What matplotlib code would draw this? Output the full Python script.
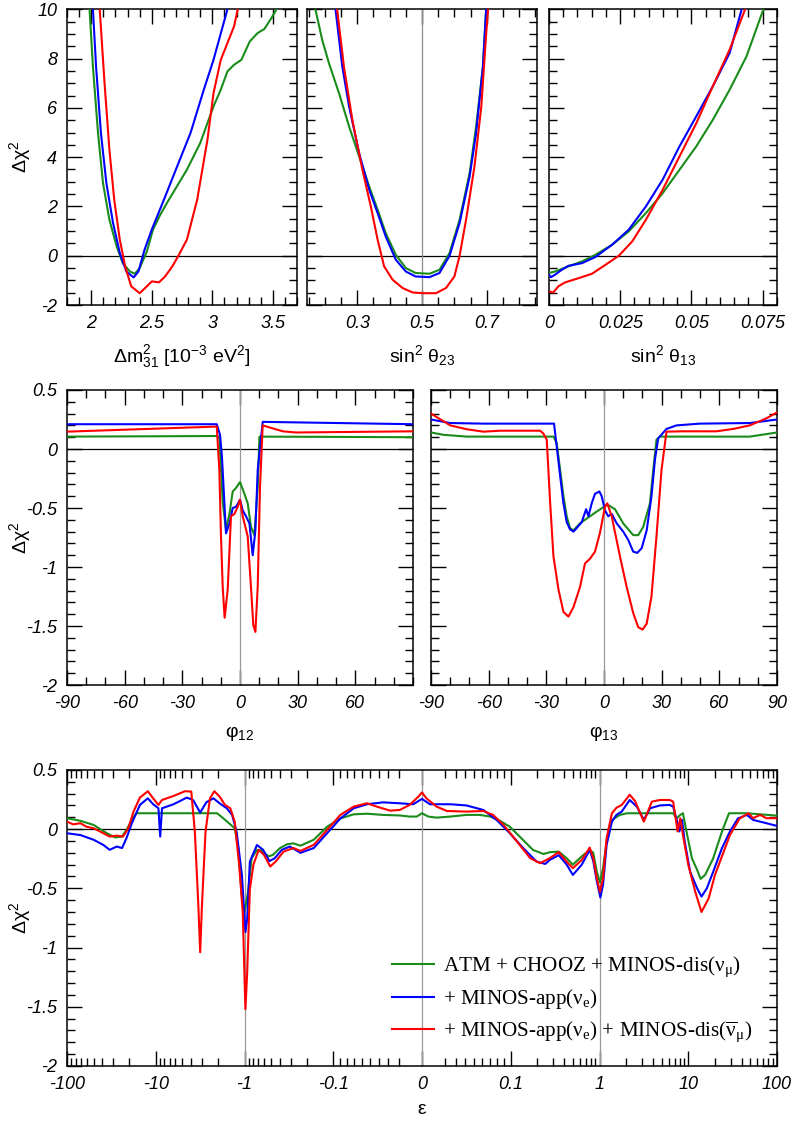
import numpy as np
import matplotlib
matplotlib.use('Agg')
import matplotlib.pyplot as plt
from matplotlib.ticker import MultipleLocator, FixedLocator, FuncFormatter

# Data read off the reference
# Panel 1: delta m^2_31 [1e-3 eV^2]
dm_green_x = [1.986, 2.014, 2.056, 2.097, 2.15, 2.21, 2.26, 2.32, 2.36, 2.40, 2.46, 2.51, 2.57, 2.625,
              2.79, 2.90, 3.01, 3.07, 3.125, 3.18, 3.24, 3.31, 3.375, 3.43, 3.49, 3.53]
dm_green_y = [10, 7.67, 4.98, 2.95, 1.46, 0.38, -0.30, -0.64, -0.73, -0.5, 0.18, 1.06, 1.66, 2.14,
              3.49, 4.57, 6.06, 6.74, 7.48, 7.75, 7.95, 8.7, 9.04, 9.2, 9.66, 10]
dm_blue_x = [2.014, 2.04, 2.08, 2.125, 2.18, 2.236, 2.29, 2.35, 2.39, 2.44, 2.5, 2.6, 2.71, 2.82,
             2.93, 3.01, 3.125]
dm_blue_y = [10, 7.67, 4.98, 2.95, 1.33, 0.11, -0.64, -0.88, -0.64, 0.24, 1.06, 2.27, 3.63, 4.98,
             6.74, 7.95, 10]
dm_red_x = [2.07, 2.11, 2.15, 2.19, 2.236, 2.28, 2.33, 2.40, 2.46, 2.5, 2.56, 2.61, 2.67, 2.72,
            2.79, 2.875, 2.96, 3.01, 3.07, 3.125, 3.18, 3.21]
dm_red_y = [10, 7.0, 4.3, 2.27, 0.65, -0.43, -1.24, -1.52, -1.24, -1.04, -1.08, -0.84, -0.43, 0,
            0.65, 2.27, 4.71, 6.6, 7.95, 8.63, 9.31, 10]

# Panel 2: sin^2 theta_23
t23_green_x = [0.171, 0.192, 0.213, 0.244, 0.275, 0.306, 0.337, 0.363, 0.388, 0.419, 0.45, 0.48,
               0.523, 0.554, 0.585, 0.616, 0.647, 0.667, 0.688, 0.698]
t23_green_y = [10, 8.75, 7.8, 6.59, 5.24, 4.03, 2.81, 1.87, 0.92, 0.04, -0.5, -0.70,
               -0.73, -0.57, 0.11, 1.46, 3.36, 5.24, 7.67, 10]
t23_blue_x = [0.233, 0.254, 0.275, 0.306, 0.337, 0.363, 0.388, 0.419, 0.45, 0.48, 0.523, 0.554,
              0.585, 0.616, 0.647, 0.667, 0.688, 0.698]
t23_blue_y = [10, 7.67, 6.05, 4.16, 2.68, 1.73, 0.78, -0.16, -0.64, -0.84, -0.87, -0.70,
              0, 1.33, 3.22, 4.98, 7.67, 10]
t23_red_x = [0.238, 0.259, 0.285, 0.316, 0.342, 0.363, 0.383, 0.409, 0.44, 0.471, 0.502, 0.543,
             0.574, 0.6, 0.616, 0.636, 0.662, 0.683, 0.698, 0.704]
t23_red_y = [10, 7.67, 5.51, 3.49, 2.0, 0.65, -0.43, -0.97, -1.31, -1.49, -1.52, -1.52,
             -1.31, -0.84, 0, 1.46, 3.63, 6.05, 9.0, 10]

# Panel 3: sin^2 theta_13
t13_green_x = [0, 0.0021, 0.0068, 0.0116, 0.0163, 0.0222, 0.028, 0.034, 0.0399, 0.0458, 0.0517,
               0.0575, 0.0634, 0.0693, 0.0752]
t13_green_y = [-0.70, -0.64, -0.43, -0.23, 0.04, 0.45, 0.99, 1.73, 2.54, 3.49, 4.44,
               5.52, 6.74, 8.09, 9.99]
t13_blue_x = [0, 0.0007, 0.0021, 0.0045, 0.0068, 0.0116, 0.0163, 0.0222, 0.028, 0.034, 0.0399,
              0.0458, 0.0517, 0.0575, 0.0634, 0.0676]
t13_blue_y = [-0.77, -0.87, -0.77, -0.57, -0.41, -0.30, -0.05, 0.45, 1.06, 2.0, 3.09,
              4.44, 5.66, 6.88, 8.23, 10]
t13_red_x = [0, 0.0015, 0.0033, 0.0057, 0.0104, 0.0151, 0.0198, 0.0245, 0.0292, 0.034, 0.0399,
             0.0458, 0.0517, 0.0575, 0.0634, 0.0688]
t13_red_y = [-1.45, -1.49, -1.24, -1.08, -0.91, -0.73, -0.37, 0, 0.58, 1.46, 2.68,
             4.03, 5.38, 6.88, 8.37, 10]

# Panel 4: phi_12
p12_green_x = [-90, -12.1, -10.75, -9.0, -7.3, -5.5, -3.8, -2.1, 0, 2.3, 4.0, 5.7, 7.5, 9.2, 10.1, 90]
p12_green_y = [0.105, 0.11, 0.10, -0.45, -0.68, -0.55, -0.36, -0.33, -0.28, -0.38, -0.46, -0.66,
               -0.73, -0.32, 0.105, 0.10]
p12_blue_x = [-90, -12.1, -10.4, -9.4, -7.3, -5.5, -3.8, -2.1, 0, 1.4, 3.1, 4.9, 6.6, 8.0, 9.2,
              11.8, 90]
p12_blue_y = [0.21, 0.21, 0.12, -0.065, -0.715, -0.63, -0.5, -0.49, -0.43, -0.52, -0.57, -0.63,
              -0.90, -0.69, -0.18, 0.23, 0.21]
p12_red_x = [-90, -12.1, -10.75, -9.9, -9.0, -8.0, -6.4, -4.7, -2.9, -1.2, 0, 1.4, 4.0, 5.7, 6.9,
             8.0, 9.2, 10.4, 11.8, 17, 22.2, 29.1, 90]
p12_red_y = [0.147, 0.19, -0.18, -0.74, -1.17, -1.43, -1.19, -0.57, -0.55, -0.49, -0.43, -0.57,
             -0.74, -1.17, -1.49, -1.55, -1.17, -0.32, 0.20, 0.175, 0.15, 0.14, 0.15]

# Panel 5: phi_13
p13_green_x = [-90, -83.4, -71.3, -26.3, -24.6, -22.8, -21.1, -19.4, -17.7, -15.9, -12.5, -9.0,
               -3.8, 0, 1.7, 5.7, 10, 15.2, 17.8, 20.4, 23.9, 25.6, 27.3, 29.1, 75.8, 90]
p13_green_y = [0.14, 0.12, 0.105, 0.105, 0.05, -0.18, -0.40, -0.57, -0.67, -0.69, -0.63, -0.59,
               -0.53, -0.49, -0.47, -0.51, -0.63, -0.73, -0.73, -0.66, -0.46, -0.18, 0.08, 0.105,
               0.105, 0.14]
p13_blue_x = [-90, -80, -62.7, -26, -24.6, -22.8, -21.1, -19.4, -17.7, -15.9, -14.2, -11.6, -9.3,
              -8.1, -6.4, -4.7, -2.4, -1.2, 0.5, 2.2, 4.0, 6.6, 10, 12.6, 15.2, 17.3, 19.6, 22.2,
              24.7, 26.5, 28.2, 32.5, 37.7, 49.8, 75.8, 90]
p13_blue_y = [0.25, 0.22, 0.215, 0.215, 0.02, -0.23, -0.46, -0.62, -0.68, -0.70, -0.67, -0.62, -0.51,
              -0.57, -0.46, -0.38, -0.36, -0.40, -0.52, -0.57, -0.55, -0.63, -0.70, -0.77, -0.87,
              -0.88, -0.84, -0.69, -0.40, -0.09, 0.09, 0.17, 0.20, 0.215, 0.22, 0.25]
p13_red_x = [-90, -80, -71.3, -62.7, -54, -33.2, -31.5, -29.8, -28, -26.3, -23.7, -21.1, -18.5,
             -15.9, -12.5, -9.9, -7.3, -4.7, -2.1, 0.5, 1.7, 4.0, 8.3, 11.8, 15.2, 17.8, 20.1,
             22.2, 24.7, 27.3, 29.9, 32.5, 41.2, 58.5, 67.2, 75.8, 84.5, 90]
p13_red_y = [0.30, 0.20, 0.167, 0.147, 0.155, 0.155, 0.13, 0.08, -0.46, -0.91, -1.19, -1.38, -1.42,
             -1.34, -1.17, -0.97, -0.93, -0.87, -0.71, -0.49, -0.46, -0.57, -0.91, -1.17, -1.39,
             -1.51, -1.53, -1.48, -1.25, -0.74, -0.18, 0.147, 0.15, 0.15, 0.17, 0.20, 0.26, 0.31]

# Panel 6: epsilon
eps_green_x = [-100, -70.8, -50.1, -35.5, -28.8, -24.0, -21.4, -18.6, -16.6, -2.04, -1.74, -1.445,
               -1.29, -1.175, -1.07, -1.0, -0.912, -0.832, -0.724, -0.646, -0.537, -0.479, -0.398,
               -0.331, -0.282, -0.234, -0.166, -0.1175, -0.0892, -0.0705, -0.0537, -0.0357,
               -0.0189, -0.0102, -0.0042, 0, 0.005, 0.0121, 0.0248, 0.0414, 0.0569, 0.0705,
               0.084, 0.0986, 0.126, 0.178, 0.234, 0.275, 0.347, 0.427, 0.501, 0.631, 0.776,
               0.851, 0.933, 1.012, 1.096, 1.202, 1.38, 1.70, 2.04, 6.76, 7.41, 8.13, 8.71,
               9.55, 11.0, 12.6, 13.8, 15.5, 19.1, 24.0, 28.8, 45.7, 64.6, 100]
eps_green_y = [0.092, 0.07, 0.035, -0.035, -0.07, -0.063, -0.007, 0.078, 0.134, 0.134, 0.092, 0.04,
               0.007, -0.16, -0.58, -0.70, -0.53, -0.246, -0.175, -0.18, -0.23, -0.218, -0.16,
               -0.128, -0.12, -0.14, -0.09, 0.02, 0.09, 0.125, 0.13, 0.12,
               0.115, 0.106, 0.106, 0.134, 0.106, 0.097, 0.106, 0.12, 0.12, 0.106,
               0.07, 0.02, -0.063, -0.176, -0.21, -0.195, -0.19, -0.246, -0.30, -0.23, -0.175,
               -0.2, -0.36, -0.45, -0.33, -0.105, 0.078, 0.12, 0.134, 0.134, 0.09, 0.12, 0.134,
               -0.02, -0.246, -0.345, -0.42, -0.387, -0.246, -0.02, 0.134, 0.134, 0.125, 0.114]
eps_blue_x = [-100, -70.8, -50.1, -38.9, -33.1, -27.5, -24.0, -21.4, -18.6, -15.1, -12.3, -10.7,
              -9.33, -8.91, -8.51, -6.31, -4.47, -3.80, -3.16, -2.69, -2.24, -1.91, -1.585,
              -1.38, -1.23, -1.07, -0.977, -0.933, -0.871, -0.724, -0.617, -0.525, -0.457,
              -0.380, -0.309, -0.234, -0.166, -0.1175, -0.0892, -0.0705, -0.0537, -0.0357,
              -0.0189, -0.0072, 0, 0.0064, 0.0248, 0.0414, 0.0613, 0.079, 0.0986, 0.138, 0.195,
              0.245, 0.275, 0.347, 0.427, 0.501, 0.631, 0.776, 0.851, 0.933, 1.023, 1.096, 1.202,
              1.38, 1.55, 1.78, 2.19, 2.63, 3.16, 3.72, 4.79, 6.17, 6.76, 7.41, 7.94, 8.51, 9.12,
              10.5, 12.6, 14.1, 16.2, 19.1, 24.0, 29.5, 36.3, 45.7, 53.7, 64.6, 75.9, 100]
eps_blue_y = [-0.035, -0.05, -0.09, -0.134, -0.175, -0.147, -0.16, -0.077, 0.05, 0.204, 0.26, 0.21,
              0.176, -0.063, 0.176, 0.21, 0.266, 0.246, 0.14, 0.227, 0.26, 0.218, 0.176,
              0.12, -0.02, -0.387, -0.87, -0.76, -0.275, -0.134, -0.175, -0.27, -0.246,
              -0.175, -0.147, -0.2, -0.16, -0.035, 0.09, 0.176, 0.21, 0.226,
              0.218, 0.21, 0.255, 0.21, 0.21, 0.2, 0.162, 0.078, -0.035, -0.16, -0.274,
              -0.294, -0.26, -0.22, -0.30, -0.387, -0.30, -0.175, -0.27, -0.44, -0.578, -0.47,
              -0.134, 0.063, 0.12, 0.148, 0.246, 0.19, 0.078, 0.176, 0.2, 0.204, 0.19, 0.078,
              -0.02, 0.078, -0.105, -0.36, -0.5, -0.57, -0.5, -0.36, -0.16, -0.02, 0.09, 0.12,
              0.078, 0.063, 0.05, 0.027]
eps_red_x = [-100, -85.1, -70.8, -60.3, -50.1, -38.9, -33.1, -27.5, -23.4, -20.4, -17.8, -15.1,
             -12.3, -10.7, -9.33, -8.51, -6.31, -4.68, -3.98, -3.63, -3.31, -3.16, -3.02, -2.75,
             -2.45, -2.19, -1.91, -1.66, -1.445, -1.29, -1.15, -1.047, -0.977, -0.933, -0.871,
             -0.794, -0.692, -0.603, -0.513, -0.447, -0.363, -0.282, -0.234, -0.166, -0.1175,
             -0.0892, -0.0705, -0.0537, -0.0424, -0.0283, -0.0189, -0.0102, -0.0028, 0, 0.0035,
             0.0121, 0.0214, 0.0414, 0.0613, 0.0741, 0.0892, 0.1175, 0.166, 0.214, 0.275, 0.347,
             0.427, 0.501, 0.631, 0.776, 0.851, 0.933, 1.012, 1.096, 1.202, 1.38, 1.55, 1.78,
             2.19, 2.51, 3.16, 3.89, 4.79, 6.17, 6.76, 7.59, 8.13, 8.71, 10, 12.0, 14.1, 17.0,
             20.0, 25.1, 29.5, 38.0, 47.9, 53.7, 64.6, 75.9, 100]
eps_red_y = [0.063, 0.04, 0.05, 0.02, 0.007, -0.035, -0.063, -0.055, -0.063, 0.007, 0.148, 0.266,
             0.32, 0.26, 0.204, 0.246, 0.28, 0.32, 0.317, -0.02, -0.65, -1.04, -0.65, -0.02,
             0.26, 0.32, 0.275, 0.204, 0.176, 0.063, -0.30, -0.70, -1.52, -1.21, -0.51,
             -0.30, -0.175, -0.218, -0.316, -0.275, -0.19, -0.16, -0.184, -0.133, -0.007,
             0.12, 0.19, 0.218, 0.19, 0.156, 0.162, 0.204, 0.275, 0.31, 0.26,
             0.19, 0.153, 0.148, 0.153, 0.12, 0.035, -0.105, -0.246, -0.288, -0.245, -0.195,
             -0.275, -0.33, -0.26, -0.156, -0.246, -0.415, -0.53, -0.415, -0.077, 0.134, 0.18,
             0.204, 0.29, 0.238, 0.063, 0.232, 0.246, 0.246, 0.232, -0.02, 0.092, -0.05, -0.30,
             -0.53, -0.70, -0.584, -0.387, -0.19, -0.05, 0.09, 0.134, 0.092, 0.12, 0.092, 0.092]

legend_labels = [r'ATM + CHOOZ + MINOS-dis($ν_{μ}$)',
                 r'+ MINOS-app($ν_{e}$)',
                 r'+ MINOS-app($ν_{e}$) + MINOS-dis($\overline{ν}_{μ}$)']

GREEN = '#1a8c1a'
BLUE = '#0000ff'
RED = '#ff0000'

plt.rcParams['font.family'] = ['Liberation Sans', 'DejaVu Sans']
plt.rcParams['font.style'] = 'italic'
plt.rcParams['mathtext.default'] = 'regular'
plt.rcParams['axes.unicode_minus'] = False
plt.rcParams['axes.linewidth'] = 1.1

fmt = FuncFormatter(lambda v, p: '%g' % v)


def style_axes(ax):
    ax.tick_params(which='both', direction='in', top=True, right=True, labelsize=13, pad=7)
    ax.tick_params(which='major', length=10.5, width=1.0)
    ax.tick_params(which='minor', length=5.5, width=1.0)
    ax.xaxis.set_major_formatter(fmt)
    ax.yaxis.set_major_formatter(fmt)
    ax.axhline(0, color='black', lw=0.9, zorder=1)


def draw_curves(ax, gx, gy, bx, by, rx, ry):
    ax.plot(gx, gy, color=GREEN, lw=1.5, zorder=3)
    ax.plot(bx, by, color=BLUE, lw=1.5, zorder=4)
    ax.plot(rx, ry, color=RED, lw=1.5, zorder=5)


def xlabel(ax, text, pad=8):
    ax.set_xlabel(text, fontsize=14, fontstyle='normal', labelpad=pad)


def ylabel(ax, xpos):
    ax.set_ylabel(r'$Δχ^2$', fontsize=14, fontstyle='normal')
    ax.yaxis.set_label_coords(xpos, 0.5)


# symmetric log axis for epsilon
def eps_fwd(x):
    x = np.asarray(x, dtype=float)
    a = np.abs(x)
    big = np.log10(np.maximum(a, 0.1)) + 2
    small = np.log2(1 + 10 * np.minimum(a, 0.1))
    return np.sign(x) * np.where(a >= 0.1, big, small)


def eps_inv(t):
    t = np.asarray(t, dtype=float)
    b = np.minimum(np.abs(t), 10)
    big = 10 ** (b - 2)
    small = (2 ** np.minimum(b, 1) - 1) / 10
    return np.sign(t) * np.where(b >= 1, big, small)


fig = plt.figure(figsize=(7.97, 11.21), dpi=100)

# Top row
top_b, top_h = 0.7279, 0.2638
ax1 = fig.add_axes([0.0841, top_b, 0.2886, top_h])
ax2 = fig.add_axes([0.3852, top_b, 0.2886, top_h])
ax3 = fig.add_axes([0.6888, top_b, 0.2861, top_h])

for ax in (ax1, ax2, ax3):
    style_axes(ax)
    ax.set_ylim(-2, 10)
    ax.yaxis.set_major_locator(MultipleLocator(2))
    ax.yaxis.set_minor_locator(MultipleLocator(0.5))

draw_curves(ax1, dm_green_x, dm_green_y, dm_blue_x, dm_blue_y, dm_red_x, dm_red_y)
ax1.set_xlim(1.8, 3.7)
ax1.xaxis.set_major_locator(MultipleLocator(0.5))
ax1.xaxis.set_minor_locator(MultipleLocator(0.1))
xlabel(ax1, r'$Δm^2_{31}$ [10$^{-3}$ eV$^2$]')
ylabel(ax1, -0.148)

draw_curves(ax2, t23_green_x, t23_green_y, t23_blue_x, t23_blue_y, t23_red_x, t23_red_y)
ax2.axvline(0.5, color='0.55', lw=0.9, zorder=2)
ax2.set_xlim(0.145, 0.855)
ax2.set_xticks([0.3, 0.5, 0.7])
ax2.xaxis.set_minor_locator(MultipleLocator(0.05))
ax2.tick_params(labelleft=False)
xlabel(ax2, r'sin$^2$ $θ_{23}$')

draw_curves(ax3, t13_green_x, t13_green_y, t13_blue_x, t13_blue_y, t13_red_x, t13_red_y)
ax3.set_xlim(0, 0.08)
ax3.set_xticks([0, 0.025, 0.05, 0.075])
ax3.xaxis.set_minor_locator(MultipleLocator(0.005))
ax3.tick_params(labelleft=False)
xlabel(ax3, r'sin$^2$ $θ_{13}$')

# Middle row
mid_b, mid_h = 0.3889, 0.2632
ax4 = fig.add_axes([0.0841, mid_b, 0.4341, mid_h])
ax5 = fig.add_axes([0.5408, mid_b, 0.4341, mid_h])
for ax in (ax4, ax5):
    style_axes(ax)
    ax.set_ylim(-2, 0.5)
    ax.set_xlim(-90, 90)
    ax.yaxis.set_major_locator(MultipleLocator(0.5))
    ax.yaxis.set_minor_locator(MultipleLocator(0.1))
    ax.xaxis.set_minor_locator(MultipleLocator(10))
    ax.axvline(0, color='0.6', lw=0.9, zorder=2)

draw_curves(ax4, p12_green_x, p12_green_y, p12_blue_x, p12_blue_y, p12_red_x, p12_red_y)
ax4.set_xticks([-90, -60, -30, 0, 30, 60])
xlabel(ax4, r'$φ_{12}$', pad=9)
ylabel(ax4, -0.098)

draw_curves(ax5, p13_green_x, p13_green_y, p13_blue_x, p13_blue_y, p13_red_x, p13_red_y)
ax5.set_xticks([-90, -60, -30, 0, 30, 60, 90])
ax5.tick_params(labelleft=False)
xlabel(ax5, r'$φ_{13}$', pad=9)

# Bottom panel
ax6 = fig.add_axes([0.0841, 0.0491, 0.8908, 0.2641])
ax6.set_xscale('function', functions=(eps_fwd, eps_inv))
style_axes(ax6)
ax6.set_xlim(-100, 100)
ax6.set_ylim(-2, 0.5)
ax6.yaxis.set_major_locator(MultipleLocator(0.5))
ax6.yaxis.set_minor_locator(MultipleLocator(0.1))
ax6.xaxis.set_major_locator(FixedLocator([-100, -10, -1, -0.1, 0, 0.1, 1, 10, 100]))
minors = []
for dec in (0.01, 0.1, 1, 10):
    for k in range(2, 10):
        minors += [k * dec, -k * dec]
ax6.xaxis.set_minor_locator(FixedLocator(sorted(minors)))
ax6.xaxis.set_major_formatter(fmt)
ax6.xaxis.set_minor_formatter(FuncFormatter(lambda v, p: ''))
for v in (-1, 0, 1):
    ax6.axvline(v, color='0.6', lw=0.9, zorder=2)

g, = ax6.plot(eps_green_x, eps_green_y, color=GREEN, lw=1.5, zorder=3)
b, = ax6.plot(eps_blue_x, eps_blue_y, color=BLUE, lw=1.5, zorder=4)
r, = ax6.plot(eps_red_x, eps_red_y, color=RED, lw=1.5, zorder=5)
xlabel(ax6, 'ε', pad=6)
ylabel(ax6, -0.048)

ax6.legend([g, b, r], legend_labels, loc='upper left', bbox_to_anchor=(0.4577, 0.375),
           frameon=False, borderpad=0, borderaxespad=0, handlelength=2.0, handletextpad=0.42,
           labelspacing=0.38, prop={'family': ['Liberation Serif', 'DejaVu Serif'],
                                    'style': 'normal', 'size': 15.2})

fig.savefig('out.png', dpi=100)
